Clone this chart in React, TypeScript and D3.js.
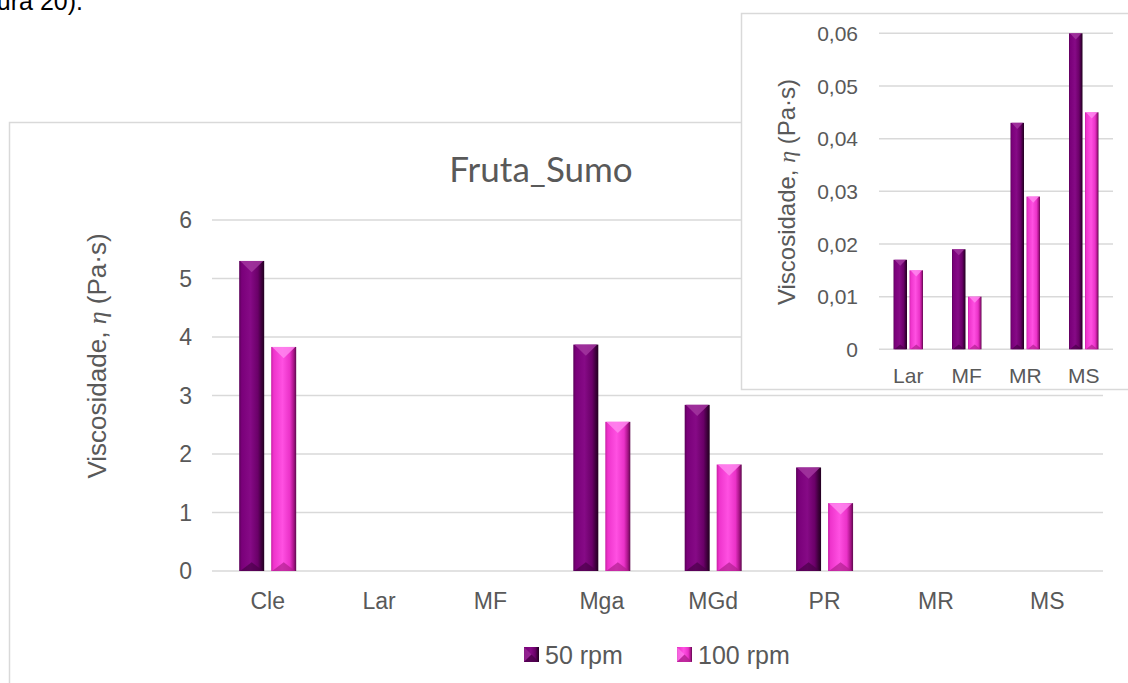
import React from "react";
import * as d3 from "d3";

const categories = ["Cle", "Lar", "MF", "Mga", "MGd", "PR", "MR", "MS"];
// Lar, MF, MR, MS are not plotted on the main scale (shown in the inset)
const rpm50: (number | null)[] = [5.3, null, null, 3.87, 2.84, 1.77, null, null];
const rpm100: (number | null)[] = [3.83, null, null, 2.55, 1.82, 1.16, null, null];
const yTicks = [0, 1, 2, 3, 4, 5, 6];

const insetCategories = ["Lar", "MF", "MR", "MS"];
const inset50 = [0.017, 0.019, 0.043, 0.06];
const inset100 = [0.015, 0.01, 0.029, 0.045];
const insetTicks = [0, 0.01, 0.02, 0.03, 0.04, 0.05, 0.06];

const seriesNames = ["50 rpm", "100 rpm"];

const FONT = "'Liberation Sans', Arial, sans-serif";
const TXT = "#595959";
const GRID = "#d9d9d9";

const palette = [
  { id: "g50", stops: [["0%", "#5a0058"], ["10%", "#7a007a"], ["45%", "#860a86"], ["75%", "#6a0068"], ["90%", "#3c003a"], ["100%", "#220020"]], top: "#a2369f", bottom: "#4a0048" },
  { id: "g100", stops: [["0%", "#c81ea4"], ["10%", "#ee34cc"], ["45%", "#ff50e2"], ["75%", "#ea32c8"], ["90%", "#a81488"], ["100%", "#5e0a4e"]], top: "#ff86ef", bottom: "#b0208f" },
];

function Bar({ x, y, w, y0, s }: { x: number; y: number; w: number; y0: number; s: number }) {
  const h = Math.max(0, y0 - y);
  if (h < 0.5) return null;
  const p = palette[s];
  const th = Math.min(w * 0.45, h / 2);
  const bh = Math.min(w * 0.35, h / 2);
  return (
    <g>
      <rect x={x} y={y} width={w} height={h} fill={`url(#${p.id})`} />
      <polygon points={`${x + 1},${y} ${x + w - 1},${y} ${x + w / 2},${y + th}`} fill={p.top} opacity={0.85} />
      <polygon points={`${x + 1},${y0} ${x + w / 2},${y0 - bh} ${x + w - 1},${y0}`} fill={p.bottom} opacity={0.7} />
    </g>
  );
}

function Chart({
  cats, s1, s2, ticks, fmt, x0, x1, yTop, yBot, bw, gap, tickX, labelY, fontSize,
}: any) {
  const x = d3.scaleBand<string>().domain(cats).range([x0, x1]).padding(0);
  const y = d3.scaleLinear().domain([ticks[0], ticks[ticks.length - 1]]).range([yBot, yTop]);
  return (
    <g>
      {ticks.map((t: number) => (
        <g key={t}>
          <line x1={x0} x2={x1} y1={y(t)} y2={y(t)} stroke={GRID} strokeWidth={1.5} />
          <text x={tickX} y={y(t)} dy="0.36em" textAnchor="end" fontSize={fontSize} fill={TXT} fontFamily={FONT}>
            {fmt(t)}
          </text>
        </g>
      ))}
      {cats.map((c: string, i: number) => {
        const cx = (x(c) as number) + x.bandwidth() / 2;
        return (
          <g key={c}>
            {s1[i] != null && <Bar x={cx - gap / 2 - bw} y={y(s1[i])} w={bw} y0={y(0)} s={0} />}
            {s2[i] != null && <Bar x={cx + gap / 2} y={y(s2[i])} w={bw} y0={y(0)} s={1} />}
            <text x={cx} y={labelY} textAnchor="middle" fontSize={fontSize} fill={TXT} fontFamily={FONT}>
              {c}
            </text>
          </g>
        );
      })}
    </g>
  );
}

function AxisTitle({ x, y, size }: { x: number; y: number; size: number }) {
  return (
    <text transform={`translate(${x},${y}) rotate(-90)`} textAnchor="middle" dy="0.35em" fontSize={size} fill={TXT} fontFamily={FONT}>
      Viscosidade,{" "}
      <tspan fontFamily="'Liberation Serif', serif" fontStyle="italic">η</tspan> (Pa·s)
    </text>
  );
}

export default function App() {
  const fmtComma = (v: number) => (v === 0 ? "0" : d3.format(".2f")(v).replace(".", ","));
  return (
    <svg width={1128} height={683} style={{ position: "fixed", left: 0, top: 0, background: "#fff" }}>
      <defs>
        {palette.map((p) => (
          <linearGradient key={p.id} id={p.id} x1="0" x2="1" y1="0" y2="0">
            {p.stops.map(([o, c]) => (
              <stop key={o} offset={o} stopColor={c} />
            ))}
          </linearGradient>
        ))}
      </defs>
      <rect width={1128} height={683} fill="#fff" />
      <text x={83} y={10} textAnchor="end" fontSize={25} fill="#000" fontFamily={FONT}>(Figura 20).</text>

      {/* main chart frame */}
      <rect x={9.5} y={122.5} width={1300} height={800} fill="#fff" stroke={GRID} strokeWidth={1.5} />
      <text x={541} y={182} textAnchor="middle" fontSize={35} fill={TXT} fontFamily="Lato, 'Open Sans', sans-serif">
        Fruta_Sumo
      </text>
      <Chart
        cats={categories} s1={rpm50} s2={rpm100} ticks={yTicks} fmt={(v: number) => String(v)}
        x0={212} x1={1103} yTop={220} yBot={571} bw={25} gap={7} tickX={192} labelY={609} fontSize={23}
      />
      <AxisTitle x={97} y={356} size={26} />

      {/* legend */}
      {seriesNames.map((n, i) => {
        const lx = i === 0 ? 524 : 677;
        const p = palette[i];
        return (
          <g key={n}>
            <rect x={lx} y={647} width={15} height={15} fill={`url(#${p.id})`} />
            <polygon points={`${lx},${647} ${lx + 7.5},${654.5} ${lx},${662}`} fill={p.top} opacity={0.6} />
            <polygon points={`${lx},${662} ${lx + 7.5},${654.5} ${lx + 15},${662}`} fill={p.bottom} opacity={0.8} />
            <text x={lx + 21} y={664} fontSize={25} fill={TXT} fontFamily={FONT}>{n}</text>
          </g>
        );
      })}

      {/* inset */}
      <rect x={741.5} y={13.5} width={500} height={376} fill="#fff" stroke={GRID} strokeWidth={1.5} />
      <Chart
        cats={insetCategories} s1={inset50} s2={inset100} ticks={insetTicks} fmt={fmtComma}
        x0={879} x1={1113} yTop={33.3} yBot={349.3} bw={13.5} gap={2.5} tickX={858} labelY={383} fontSize={21}
      />
      <AxisTitle x={787} y={192} size={24} />
    </svg>
  );
}
